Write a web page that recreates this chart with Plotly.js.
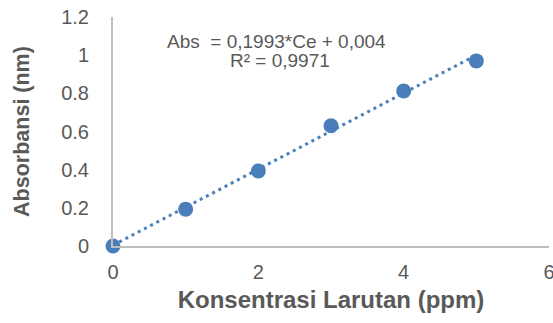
<!DOCTYPE html>
<html>
<head>
<meta charset="utf-8">
<script src="https://cdn.plot.ly/plotly-3.0.1.min.js"></script>
<style>html,body{margin:0;padding:0;background:#fff;}#chart{width:553px;height:323px;}</style>
</head>
<body>
<div id="chart"></div>
<script>
var concentration = [0, 1, 2, 3, 4, 5];
var absorbance = [0, 0.193, 0.393, 0.63, 0.812, 0.97];
var slope = 0.1993;
var intercept = 0.004;
var equationText = "Abs  = 0,1993*Ce + 0,004";
var r2Text = "R² = 0,9971";
var xTicks = [0, 2, 4, 6];
var yTicks = [0, 0.2, 0.4, 0.6, 0.8, 1, 1.2];
var yTickLabels = ["0", "0.2", "0.4", "0.6", "0.8", "1", "1.2"];

var fitX = [concentration[0], concentration[concentration.length - 1]];
var fitY = fitX.map(function (x) { return slope * x + intercept; });

var blue = "#4A7EBB";
var grey = "#595959";
var font = "Liberation Sans, Arial, sans-serif";

var data = [
  {
    x: fitX, y: fitY, type: "scatter", mode: "lines",
    line: {color: blue, width: 3, dash: "3px,4px"},
    hoverinfo: "skip", showlegend: false, cliponaxis: false
  },
  {
    x: concentration, y: absorbance, type: "scatter", mode: "markers",
    marker: {color: blue, size: 15},
    showlegend: false, cliponaxis: false
  }
];

var layout = {
  width: 553, height: 323,
  margin: {l: 113, r: 4, t: 17, b: 77},
  paper_bgcolor: "#fff", plot_bgcolor: "#fff",
  font: {family: font, color: grey},
  showlegend: false,
  xaxis: {
    range: [0, 6], tickvals: xTicks, ticktext: xTicks.map(String),
    showgrid: false, zeroline: false,
    showline: true, linecolor: "#BFBFBF", linewidth: 2,
    ticks: "", ticklabelstandoff: 7, ticklabeloverflow: "allow",
    tickfont: {size: 20, color: grey, family: font},
    title: {text: "Konsentrasi Larutan (ppm)", font: {size: 24, color: grey, family: font, weight: "bold"}, standoff: 9}
  },
  yaxis: {
    range: [0, 1.2], tickvals: yTicks, ticktext: yTickLabels,
    showgrid: false, zeroline: false,
    showline: true, linecolor: "#BFBFBF", linewidth: 2,
    ticks: "", ticklabelstandoff: 18, ticklabeloverflow: "allow",
    tickfont: {size: 20, color: grey, family: font},
    title: {text: "Absorbansi (nm)", font: {size: 21.5, color: grey, family: font, weight: "bold"}, standoff: 26}
  },
  annotations: [
    {xref: "paper", yref: "paper", x: 0.119, y: 0.895, xanchor: "left", yanchor: "middle",
     text: equationText, showarrow: false, font: {size: 19, color: grey, family: font}},
    {xref: "paper", yref: "paper", x: 0.264, y: 0.808, xanchor: "left", yanchor: "middle",
     text: r2Text, showarrow: false, font: {size: 19, color: grey, family: font}}
  ]
};

Plotly.newPlot("chart", data, layout, {displayModeBar: false, staticPlot: true});
</script>
</body>
</html>
